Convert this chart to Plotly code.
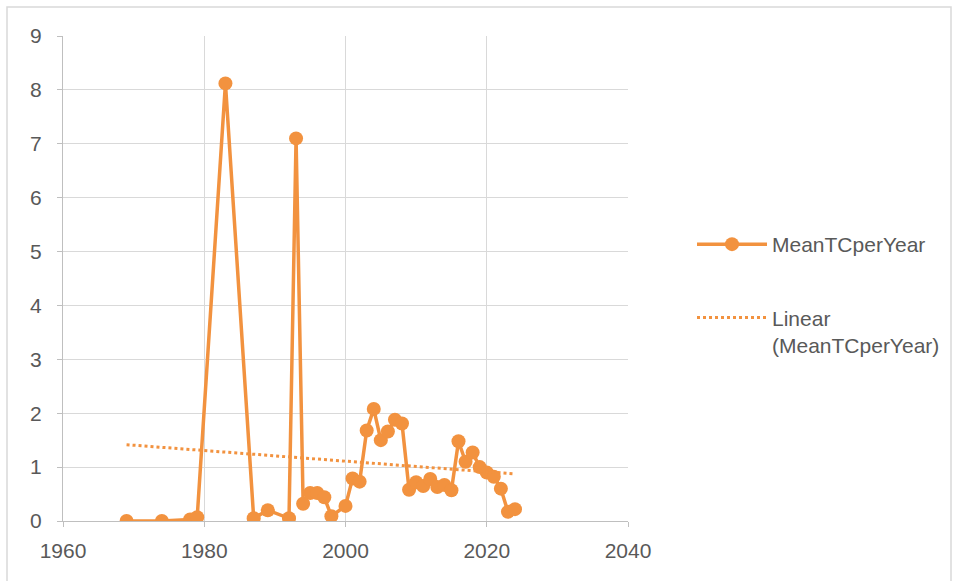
import numpy as np
import plotly.graph_objects as go

years = [1969, 1974, 1978, 1979, 1983, 1987, 1989, 1992, 1993, 1994, 1995, 1996,
         1997, 1998, 2000, 2001, 2002, 2003, 2004, 2005, 2006, 2007, 2008, 2009,
         2010, 2011, 2012, 2013, 2014, 2015, 2016, 2017, 2018, 2019, 2020, 2021,
         2022, 2023, 2024]
mean_tc = [0.0, 0.0, 0.03, 0.07, 8.12, 0.05, 0.2, 0.05, 7.1, 0.32, 0.52, 0.52,
           0.44, 0.09, 0.28, 0.79, 0.73, 1.68, 2.08, 1.5, 1.66, 1.88, 1.81, 0.58,
           0.72, 0.65, 0.78, 0.63, 0.67, 0.57, 1.48, 1.1, 1.27, 1.0, 0.9, 0.82,
           0.6, 0.17, 0.22]

x_ticks = [1960, 1980, 2000, 2020, 2040]
y_ticks = list(range(0, 10))

orange = "#F2923F"
grid = "#D9D9D9"
text_col = "#595959"

# least-squares trend line over the observed years
slope, intercept = np.polyfit(years, mean_tc, 1)
trend_x = [years[0], years[-1]]
trend_y = [slope * v + intercept for v in trend_x]

W, H = 958, 581
L, R, T, B = 63, 628, 36, 521

fig = go.Figure()
fig.add_trace(go.Scatter(
    x=years, y=mean_tc, mode="lines+markers", name="MeanTCperYear",
    legendgroup="a",
    line=dict(color=orange, width=3.5),
    marker=dict(color=orange, size=14),
))
fig.add_trace(go.Scatter(
    x=trend_x, y=trend_y, mode="lines", name="Linear<br>(MeanTCperYear)",
    legendgroup="b",
    line=dict(color=orange, width=3, dash="dot"),
))

def px_x(p):
    return (p - L) / (R - L)

def px_y(p):
    return (B - p) / (B - T)

# outer chart frame
fig.add_shape(type="rect", xref="paper", yref="paper",
              x0=px_x(7), x1=px_x(951), y0=px_y(590), y1=px_y(7),
              line=dict(color="#D9D9D9", width=1.5), layer="below")

font_family = "Liberation Sans, Arial, sans-serif"
axis_font = dict(family=font_family, size=21, color=text_col)

fig.update_xaxes(
    range=[1960, 2040], tickvals=x_ticks, ticktext=[str(v) for v in x_ticks],
    showgrid=True, gridcolor=grid, gridwidth=1,
    showline=True, linecolor="#BFBFBF", linewidth=1,
    ticks="outside", ticklen=5, tickcolor="#BFBFBF",
    tickfont=axis_font, zeroline=False, ticklabelstandoff=6,
)
fig.update_yaxes(
    range=[0, 9], tickvals=y_ticks, ticktext=[str(v) for v in y_ticks],
    showgrid=True, gridcolor=grid, gridwidth=1,
    showline=True, linecolor="#BFBFBF", linewidth=1,
    ticks="outside", ticklen=5, tickcolor="#BFBFBF",
    tickfont=axis_font, zeroline=False, ticklabelstandoff=11,
)

fig.update_layout(
    width=W, height=H,
    margin=dict(l=L, r=W - R, t=T, b=H - B),
    paper_bgcolor="white", plot_bgcolor="white",
    showlegend=True,
    legend=dict(
        x=px_x(692), y=px_y(224), xanchor="left", yanchor="top",
        font=dict(family=font_family, size=21, color=text_col),
        bgcolor="rgba(0,0,0,0)", itemwidth=70, tracegroupgap=43,
        traceorder="grouped", valign="top",
    ),
)

fig.write_html("out.html")
